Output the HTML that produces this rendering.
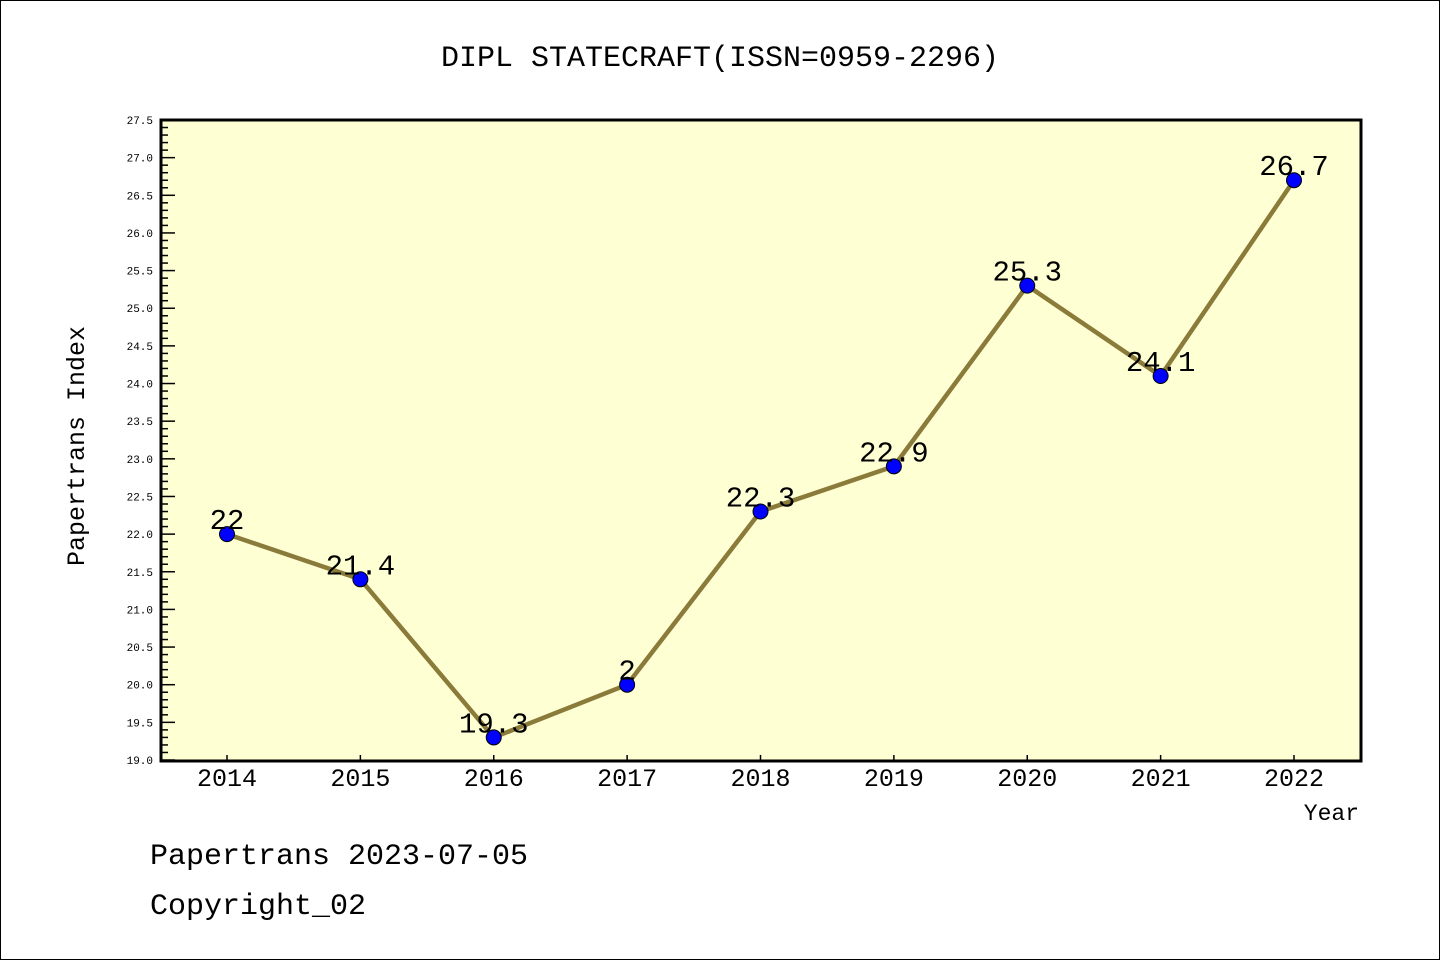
<!DOCTYPE html>
<html><head><meta charset="utf-8"><style>
body{margin:0;background:#fff}
svg{display:block}
text{font-family:"Liberation Mono","DejaVu Sans Mono",monospace}
</style></head><body>
<svg id="chart" width="1440" height="960" xmlns="http://www.w3.org/2000/svg">
<rect x="0.5" y="0.5" width="1439" height="959" fill="#fff" stroke="#000"/>
<text x="720" y="66" text-anchor="middle" font-size="30" fill="#000">DIPL STATECRAFT(ISSN=0959-2296)</text>
<rect x="161" y="120" width="1200" height="641" fill="#ffffd4"/>
<g id="marks"></g>
<rect x="161" y="120" width="1200" height="641" fill="none" stroke="#000" stroke-width="3"/>
<text transform="translate(84,446) rotate(-90)" text-anchor="middle" font-size="25">Papertrans Index</text>
<text x="1359" y="820" text-anchor="end" font-size="23">Year</text>
<text x="150" y="864" font-size="30">Papertrans 2023-07-05</text>
<text x="150" y="914" font-size="30">Copyright_02</text>
</svg>
<script>
const years=[2014,2015,2016,2017,2018,2019,2020,2021,2022];
const values=[22,21.4,19.3,20,22.3,22.9,25.3,24.1,26.7];
const labels=["22","21.4","19.3","2","22.3","22.9","25.3","24.1","26.7"];
const yMin=19.0,yMax=27.5;
const NS="http://www.w3.org/2000/svg";
const g=document.getElementById('marks');
function xs(i){return 227+i*(1294-227)/(years.length-1);}
function ys(v){return 760-(v-yMin)/(yMax-yMin)*640;}
function el(t,a){const e=document.createElementNS(NS,t);for(const k in a)e.setAttribute(k,a[k]);return e;}
const svg=document.getElementById('chart');
for(let k=0;k<=85;k++){
  const v=yMin+k*0.1;const y=ys(v);const major=k%5===0;
  const t=el('line',{x1:161,x2:161+(major?14:7),y1:y,y2:y,stroke:'#000','stroke-width':1.5});
  
  
  svg.appendChild(t);
  if(major){
    const l=el('text',{x:153,y:y+4,'text-anchor':'end','font-size':11,'font-family':'DejaVu Sans,sans-serif'});
    l.textContent=v.toFixed(1);
    
    
    svg.appendChild(l);
  }
}
years.forEach((yr,i)=>{
  const x=xs(i);
  const t=el('line',{x1:x,x2:x,y1:761,y2:755,stroke:'#000','stroke-width':1.5});
  
  
  svg.appendChild(t);
  const l=el('text',{x:x,y:786,'text-anchor':'middle','font-size':25,'font-family':'Liberation Sans,sans-serif'});
  l.textContent=yr;
  
  
  svg.appendChild(l);
});
const pts=values.map((v,i)=>xs(i)+','+ys(v)).join(' ');
const line=el('polyline',{points:pts,fill:'none',stroke:'#8b7b3a','stroke-width':4.5,'stroke-linejoin':'round'});


g.appendChild(line);
values.forEach((v,i)=>{
  const c=el('circle',{cx:xs(i),cy:ys(v),r:7.5,fill:'#0000ff',stroke:'#000','stroke-width':1});
  
  
  g.appendChild(c);
});
values.forEach((v,i)=>{
  const l=el('text',{x:xs(i),y:ys(v)-5,'text-anchor':'middle','font-size':29,'font-family':'Liberation Sans,sans-serif'});
  l.textContent=labels[i];
  
  
  g.appendChild(l);
});
</script>
</body></html>
